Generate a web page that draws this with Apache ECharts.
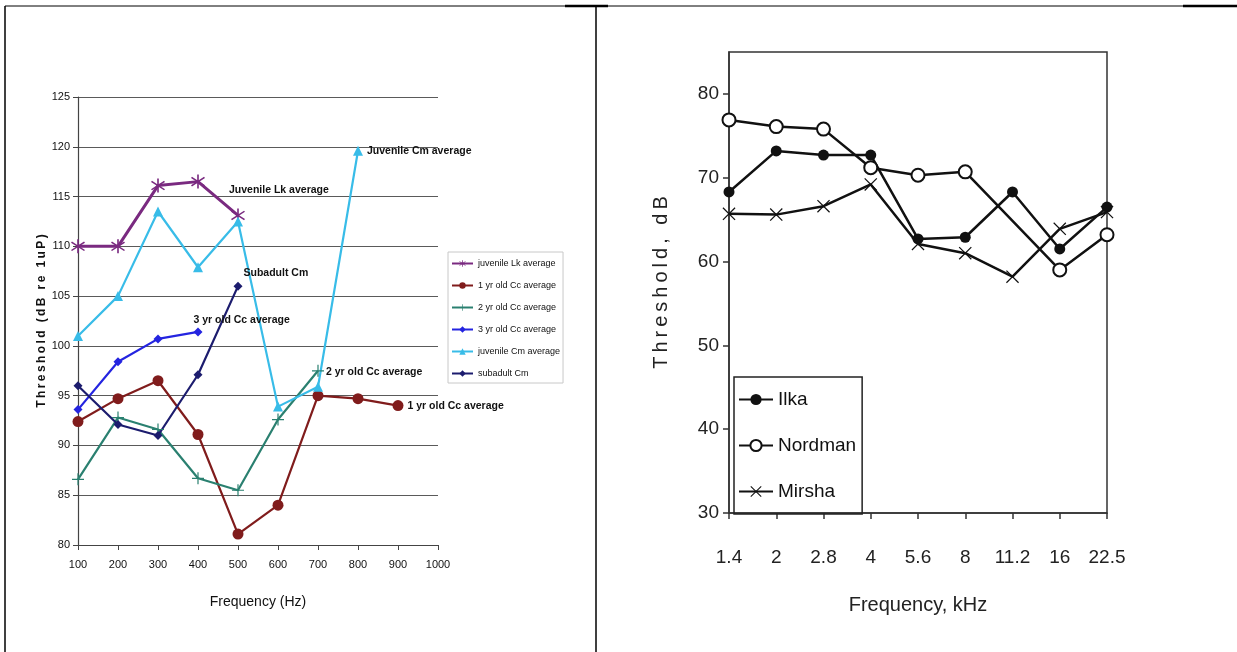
<!DOCTYPE html>
<html>
<head>
<meta charset="utf-8">
<script src="https://cdn.jsdelivr.net/npm/echarts@6/dist/echarts.min.js"></script>
<style>
html,body{margin:0;padding:0;background:#fff;}
#main{width:1237px;height:652px;}
</style>
</head>
<body>
<div id="main"></div>
<script>
// left panel
var freqHz = [100,200,300,400,500,600,700,800,900];
var lkJuv   = [110,110,116.1,116.5,113.1,null,null,null,null];
var cc1yr   = [92.4,94.7,96.5,91.1,81.1,84.0,95.0,94.7,94.0];
var cc2yr   = [86.6,92.8,91.6,86.7,85.5,92.6,97.5,null,null];
var cc3yr   = [93.6,98.4,100.7,101.4,null,null,null,null,null];
var cmJuv   = [101.0,105.0,113.5,107.9,112.5,93.9,95.9,119.6,null];
var cmSub   = [96.0,92.1,91.0,97.1,106.0,null,null,null,null];
var leftNames = ['juvenile Lk average','1 yr old Cc average','2 yr old Cc average','3 yr old Cc average','juvenile Cm average','subadult Cm'];
var endLabels = ['Juvenile Lk average','1 yr old Cc average','2 yr old Cc average','3 yr old Cc average','Juvenile Cm average','Subadult Cm'];
var leftTicks = [80,85,90,95,100,105,110,115,120,125];

// right panel
var freqKHz = ['1.4','2','2.8','4','5.6','8','11.2','16','22.5'];
var ilka    = [68.3,73.2,72.7,72.7,62.7,62.9,68.3,61.5,66.5];
var nordman = [76.9,76.1,75.8,71.2,70.3,70.7,null,59.0,63.2];
var mirsha  = [65.7,65.6,66.6,69.2,62.1,61.0,58.2,63.9,65.9];
var rightTicks = [30,40,50,60,70,80];

var narrow = "'Liberation Sans Narrow','Arial Narrow','Liberation Sans',sans-serif";
var sans = "'Liberation Sans',Arial,sans-serif";

var asterisk = 'path://M9,0 L11,0 L11,20 L9,20 Z M2.6,3.2 L18.6,15.2 L17.4,16.8 L1.4,4.8 Z M1.4,15.2 L17.4,3.2 L18.6,4.8 L2.6,16.8 Z';
var plus = 'path://M9,0 L11,0 L11,9 L20,9 L20,11 L11,11 L11,20 L9,20 L9,11 L0,11 L0,9 L9,9 Z';
var cross = 'path://M1.64,0.36 L19.64,18.36 L18.36,19.64 L0.36,1.64 Z M0.36,18.36 L18.36,0.36 L19.64,1.64 L1.64,19.64 Z';

function spaced(s){
    return s.split('').join('\u2009');
}

function pairs(vals, lbl, off){
    var out = [];
    for (var i = 0; i < vals.length; i++){
        if (vals[i] == null) continue;
        out.push([freqHz[i], vals[i]]);
    }
    var last = out[out.length-1];
    out[out.length-1] = {
        value: last,
        label: {
            show: true, position: 'right', distance: 0, offset: off,
            formatter: lbl, fontFamily: narrow, fontWeight: 'bold', fontSize: 10.5, color: '#111'
        }
    };
    return out;
}

function leftLine(name, vals, color, symbol, size, width, lbl, off){
    return {
        name: name, type: 'line', xAxisIndex: 0, yAxisIndex: 0,
        data: pairs(vals, lbl, off),
        symbol: symbol, symbolSize: size,
        lineStyle: {color: color, width: width},
        itemStyle: {color: color},
        animation: false
    };
}

function rightLine(name, vals, symbol, size){
    return {
        name: name, type: 'line', xAxisIndex: 1, yAxisIndex: 1,
        data: vals, connectNulls: true,
        symbol: symbol, symbolSize: size,
        lineStyle: {color: '#111', width: 2.5},
        itemStyle: {color: '#111', borderWidth: symbol == 'emptyCircle' ? 1.2 : 0},
        animation: false
    };
}

var myChart = echarts.init(document.getElementById('main'));
var option = {
    backgroundColor: '#fff',
    grid: [
        {left: 78, top: 97, width: 360, height: 448},
        {left: 729, top: 52, width: 378, height: 461, show: true, borderColor: '#333', borderWidth: 1.5}
    ],
    legend: [
        {
            data: leftNames, orient: 'vertical', left: 448, top: 252,
            padding: [7, 3, 5, 3], itemWidth: 21, itemHeight: 8, itemGap: 13,
            borderColor: '#c8c8c8', borderWidth: 1, selectedMode: false,
            textStyle: {fontFamily: narrow, fontSize: 9, color: '#111'}
        },
        {
            data: ['Ilka','Nordman','Mirsha'], orient: 'vertical', left: 734, top: 377,
            padding: [13, 6, 13, 4], itemWidth: 34, itemHeight: 14, itemGap: 27,
            borderColor: '#222', borderWidth: 1.5, selectedMode: false,
            textStyle: {fontFamily: sans, fontSize: 19, color: '#111'}
        }
    ],
    xAxis: [
        {
            gridIndex: 0, type: 'value', min: 100, max: 1000, interval: 100,
            name: 'Frequency (Hz)', nameLocation: 'middle', nameGap: 50,
            nameTextStyle: {fontFamily: narrow, fontSize: 14, color: '#111'},
            axisLine: {lineStyle: {color: '#444', width: 1.2}},
            axisTick: {lineStyle: {color: '#444'}, length: 5},
            axisLabel: {fontFamily: narrow, fontSize: 11, color: '#111', margin: 14,
                formatter: function(v){ return String(v); }},
            splitLine: {show: false}
        },
        {
            gridIndex: 1, type: 'category', data: freqKHz, boundaryGap: false,
            name: 'Frequency, kHz', nameLocation: 'middle', nameGap: 82,
            nameTextStyle: {fontFamily: sans, fontSize: 20, color: '#222'},
            axisLine: {lineStyle: {color: '#333', width: 1.5}},
            axisTick: {lineStyle: {color: '#333', width: 1.5}, length: 6, interval: 0},
            axisLabel: {fontFamily: sans, fontSize: 19, color: '#222', margin: 35, interval: 0},
            splitLine: {show: false}
        }
    ],
    yAxis: [
        {
            gridIndex: 0, type: 'value', min: 80, max: 125, interval: 5,
            name: spaced('Threshold (dB re 1uP)'), nameLocation: 'middle', nameGap: 30,
            nameTextStyle: {fontFamily: sans, fontWeight: 'bold', fontSize: 12, color: '#111'},
            axisLine: {show: true, lineStyle: {color: '#444', width: 1.2}},
            axisTick: {show: true, lineStyle: {color: '#444'}, length: 5},
            axisLabel: {fontFamily: narrow, fontSize: 11, color: '#111', margin: 8,
                customValues: leftTicks},
            splitLine: {show: true, lineStyle: {color: '#5a5a5a', width: 1.2}}
        },
        {
            gridIndex: 1, type: 'value', min: 30, max: 85,
            name: spaced('Threshold, dB'), nameLocation: 'middle', nameGap: 58,
            nameTextStyle: {fontFamily: sans, fontSize: 20, color: '#222'},
            axisLine: {show: true, lineStyle: {color: '#333', width: 1.5}},
            axisTick: {show: true, lineStyle: {color: '#333', width: 1.5}, length: 6, customValues: rightTicks},
            axisLabel: {fontFamily: sans, fontSize: 19, color: '#222', margin: 10, customValues: rightTicks},
            splitLine: {show: false}
        }
    ],
    graphic: [
        {type: 'line', shape: {x1: 5, y1: 6, x2: 1237, y2: 6}, style: {stroke: '#000', lineWidth: 1}},
        {type: 'line', shape: {x1: 565, y1: 6, x2: 608, y2: 6}, style: {stroke: '#000', lineWidth: 2.5}},
        {type: 'line', shape: {x1: 1183, y1: 6, x2: 1237, y2: 6}, style: {stroke: '#000', lineWidth: 2.5}},
        {type: 'line', shape: {x1: 5, y1: 6, x2: 5, y2: 652}, style: {stroke: '#000', lineWidth: 1.5}},
        {type: 'line', shape: {x1: 596, y1: 6, x2: 596, y2: 652}, style: {stroke: '#000', lineWidth: 1.5}}
    ],
    series: [
        leftLine(leftNames[0], lkJuv, '#7a2a80', asterisk, 14, 3, endLabels[0], [-16, -25]),
        leftLine(leftNames[1], cc1yr, '#801c1c', 'circle', 11, 2.2, endLabels[1], [4, 0]),
        leftLine(leftNames[2], cc2yr, '#2a8070', plus, 12, 2.2, endLabels[2], [2, 1]),
        leftLine(leftNames[3], cc3yr, '#2424e0', 'diamond', 9, 2.2, endLabels[3], [-9, -12]),
        leftLine(leftNames[4], cmJuv, '#38bce8', 'triangle', 10, 2.2, endLabels[4], [4, 0]),
        leftLine(leftNames[5], cmSub, '#1c1c6e', 'diamond', 9, 2.2, endLabels[5], [1, -13]),
        rightLine('Ilka', ilka, 'circle', 11),
        rightLine('Nordman', nordman, 'emptyCircle', 13),
        rightLine('Mirsha', mirsha, cross, 13)
    ]
};
myChart.setOption(option);
</script>
</body>
</html>
